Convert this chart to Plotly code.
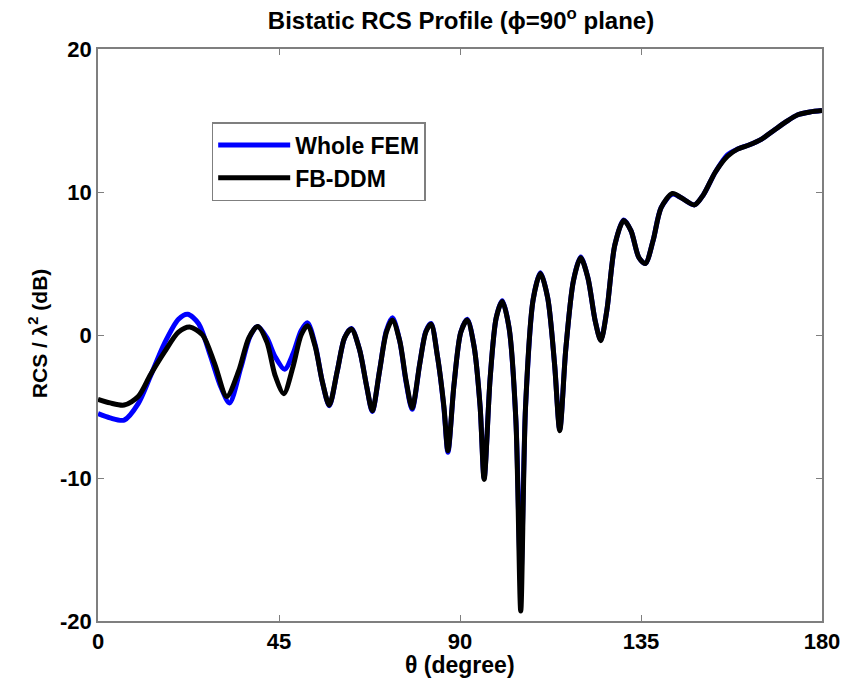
import plotly.graph_objects as go

# Bistatic angle samples (degrees) and RCS values (dB) for each solver
theta_fb = [0, 3, 6.5, 10, 13, 16.5, 20, 22.8, 26, 29, 32, 35, 37.5, 39.7, 42, 44, 46.2,
            48.5, 50.5, 52.1, 54, 55.8, 57.5, 59.5, 61.3, 63, 65, 66.8, 68.2, 70, 71.7,
            73.2, 75, 76.6, 78.1, 80, 81.5, 82.8, 84.4, 86, 87, 88.5, 90.2, 91.8, 93.5,
            95, 96, 97.5, 99, 100.5, 102.2, 103.9, 105.1, 106.3, 108.2, 110, 111.8, 113.5,
            114.8, 116.3, 118.2, 120, 121.8, 123.6, 125, 126.5, 128.5, 130.7, 132.5, 134.5,
            136.1, 138, 140, 142.8, 145, 148.3, 150.5, 153.5, 156.5, 159, 162, 165, 168,
            171, 174, 177, 180]
rcs_fb = [-4.5, -4.75, -4.9, -4.3, -2.8, -1.2, 0.2, 0.56, 0.0, -2.0, -4.3, -2.5, -0.2, 0.6,
          -0.5, -2.8, -4.1, -2.2, 0.0, 0.65, -0.8, -3.3, -4.9, -2.5, -0.2, 0.42, -1.0, -3.6,
          -5.3, -2.5, 0.2, 1.05, -0.4, -3.2, -5.1, -2.0, 0.2, 0.75, -1.5, -5.0, -8.1, -3.5,
          0.2, 1.05, -0.8, -5.0, -10.1, -3.0, 1.2, 2.35, 0.5, -6.0, -19.3, -5.0, 2.5, 4.3,
          2.6, -2.0, -6.7, -1.0, 3.8, 5.4, 4.0, 1.0, -0.4, 1.7, 6.3, 8.0, 7.3, 5.4, 5.0, 6.6,
          8.9, 9.9, 9.6, 9.1, 9.8, 11.4, 12.5, 13.0, 13.3, 13.7, 14.3, 14.9, 15.4, 15.6, 15.7]

theta_fem = [0, 3, 6.5, 10, 13, 16.5, 20, 22.3, 25, 28, 30.5, 32.7, 35.5, 37.8, 39.7, 42,
             44, 46.4, 48.5, 50.5, 52.1, 54, 55.8, 57.5, 59.5, 61.3, 63, 65, 66.8, 68.2, 70,
             71.7, 73.2, 75, 76.6, 78.1, 80, 81.5, 82.8, 84.4, 86, 87, 88.5, 90.2, 91.8,
             93.5, 95, 96, 97.5, 99, 100.5, 102.2, 103.9, 105.1, 106.3, 108.2, 110, 111.8,
             113.5, 114.8, 116.3, 118.2, 120, 121.8, 123.6, 125, 126.5, 128.5, 130.7, 132.5,
             134.5, 136.1, 138, 140, 142.8, 145, 148.3, 150.5, 153.5, 156.5, 159, 162, 165,
             168, 171, 174, 177, 180]
rcs_fem = [-5.5, -5.8, -5.95, -4.8, -2.9, -0.6, 1.1, 1.45, 0.8, -1.5, -3.6, -4.75, -2.3,
           -0.1, 0.6, -0.2, -1.5, -2.4, -1.3, 0.3, 0.85, -0.7, -3.3, -4.95, -2.5, -0.2, 0.45,
           -1.0, -3.6, -5.35, -2.5, 0.3, 1.2, -0.4, -3.3, -5.2, -2.0, 0.25, 0.8, -1.5, -5.1,
           -8.2, -3.5, 0.2, 1.1, -0.8, -5.0, -10.0, -3.0, 1.2, 2.4, 0.5, -6.0, -17.0, -5.0,
           2.5, 4.35, 2.6, -2.0, -6.6, -1.0, 3.8, 5.45, 4.0, 1.0, -0.35, 1.7, 6.3, 8.05, 7.3,
           5.4, 5.0, 6.6, 8.9, 9.85, 9.6, 9.1, 9.8, 11.4, 12.6, 13.0, 13.3, 13.7, 14.3, 14.9,
           15.4, 15.6, 15.7]

x_ticks = [0, 45, 90, 135, 180]
x_ticktext = ["0", "45", "90", "135", "180"]
y_ticks = [-20, -10, 0, 10, 20]
y_ticktext = ["-20", "-10", "0", "10", "20"]

FONT = "Liberation Sans"
GRAY = "#7f7f7f"

fig = go.Figure()
fig.add_trace(go.Scatter(
    x=theta_fem, y=rcs_fem, mode="lines", name="Whole FEM",
    line=dict(color="#0000ff", width=5, shape="spline", smoothing=0.8),
))
fig.add_trace(go.Scatter(
    x=theta_fb, y=rcs_fb, mode="lines", name="FB-DDM",
    line=dict(color="#000000", width=5, shape="spline", smoothing=0.8),
))

axis_common = dict(
    showgrid=False, zeroline=False, showline=True, linecolor=GRAY, linewidth=1.5,
    mirror="ticks", ticks="inside", ticklen=6, tickcolor=GRAY, tickwidth=1,
    tickfont=dict(family=FONT, size=22, color="black", weight="bold"),
)

fig.update_layout(
    width=852, height=693,
    margin=dict(l=98, r=28, t=49, b=72),
    paper_bgcolor="white", plot_bgcolor="white",
    title=dict(
        text="Bistatic RCS Profile (\u03d5=90<sup>o</sup> plane)",
        x=(98 + 824) / 2 / 852, xanchor="center",
        y=1 - 21 / 693, yanchor="middle",
        font=dict(family=FONT, size=24, color="black", weight="bold"),
    ),
    xaxis=dict(range=[0, 180], tickvals=x_ticks, ticktext=x_ticktext, **axis_common),
    yaxis=dict(range=[-20, 20], tickvals=y_ticks, ticktext=y_ticktext, **axis_common),
    legend=dict(
        x=(212 - 98) / 726, y=(621 - 122) / 572, xanchor="left", yanchor="top",
        bgcolor="white", bordercolor=GRAY, borderwidth=1.5,
        font=dict(family=FONT, size=23, color="black", weight="bold"),
        itemwidth=72, tracegroupgap=0,
    ),
    showlegend=True,
    annotations=[
        dict(text="\u03b8 (degree)", xref="paper", yref="paper",
             x=0.5, y=(621 - 665) / 572, xanchor="center", yanchor="middle",
             showarrow=False, font=dict(family=FONT, size=23, color="black", weight="bold")),
        dict(text="RCS / \u03bb<sup>2</sup> (dB)", xref="paper", yref="paper",
             x=(38 - 98) / 726, y=(621 - 333) / 572, xanchor="center", yanchor="middle",
             textangle=-90, showarrow=False,
             font=dict(family=FONT, size=21, color="black", weight="bold")),
    ],
)

fig.write_html("out.html")
